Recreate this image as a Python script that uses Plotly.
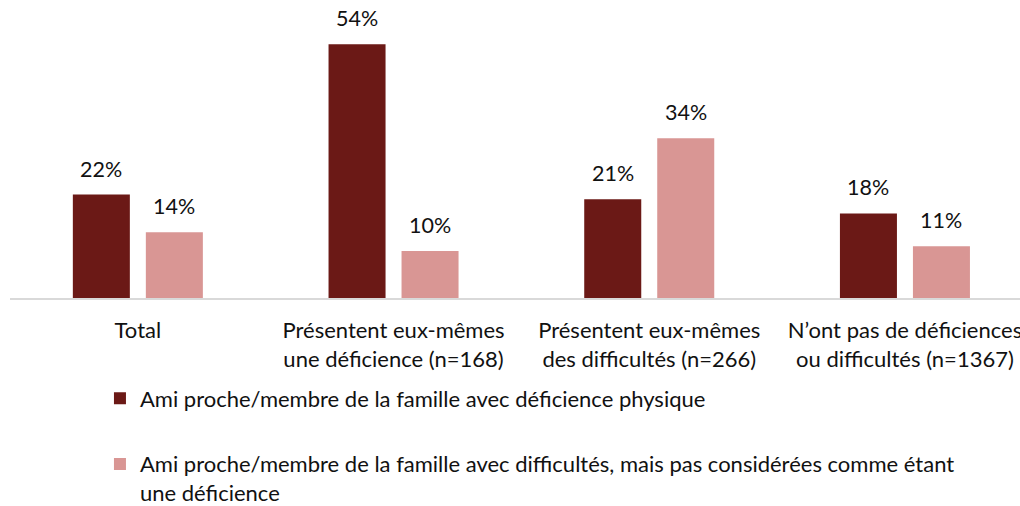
import plotly.graph_objects as go

categories = ["Total", "Présentent eux-mêmes<br>une déficience (n=168)",
              "Présentent eux-mêmes<br>des difficultés (n=266)",
              "N’ont pas de déficiences<br>ou difficultés (n=1367)"]
series_names = ["Ami proche/membre de la famille avec déficience physique",
                "Ami proche/membre de la famille avec difficultés, mais pas considérées comme étant<br>une déficience"]
physique = [22, 54, 21, 18]
difficultes = [14, 10, 34, 11]
colors = ["#6B1916", "#D99694"]
FONT = "Lato"
TXT = "#111111"

fig = go.Figure()
for i, (name, vals) in enumerate(zip(series_names, [physique, difficultes])):
    fig.add_trace(go.Bar(x=categories, y=vals, name=name, marker_color=colors[i],
                         marker_line_width=0, legendgroup=f"g{i}", hoverinfo="skip"))
    for c, v in zip(categories, vals):
        fig.add_annotation(x=c, y=v, text=f"{v}%", showarrow=False, yanchor="bottom",
                           xshift=(-36.5 if i == 0 else 36.5), yshift=11,
                           font=dict(family=FONT, size=21.5, color=TXT))

fig.update_layout(
    width=1020, height=506,
    margin=dict(l=10, r=0, t=16, b=208, autoexpand=False),
    paper_bgcolor="white", plot_bgcolor="white",
    barmode="group", bargap=0.429, bargroupgap=0.219,
    font=dict(family=FONT, size=22, color=TXT),
    showlegend=True,
    legend=dict(xref="container", yref="container", x=0.098, y=1 - 377.5 / 506,
                xanchor="left", yanchor="top", orientation="v", valign="top",
                tracegroupgap=34, font=dict(family=FONT, size=22, color=TXT),
                bgcolor="rgba(0,0,0,0)"),
    xaxis=dict(range=[-0.5, 3.45], showgrid=False, showline=True, linecolor="#D9D9D9",
               linewidth=1.5, ticks="", tickangle=0, ticklabelstandoff=12,
               tickfont=dict(family=FONT, size=22, color=TXT), fixedrange=True),
    yaxis=dict(range=[0, 60], visible=False, showgrid=False, zeroline=False, fixedrange=True),
)
fig.write_html("out.html", config={"displayModeBar": False},
               post_script="document.body.style.margin='0';")
